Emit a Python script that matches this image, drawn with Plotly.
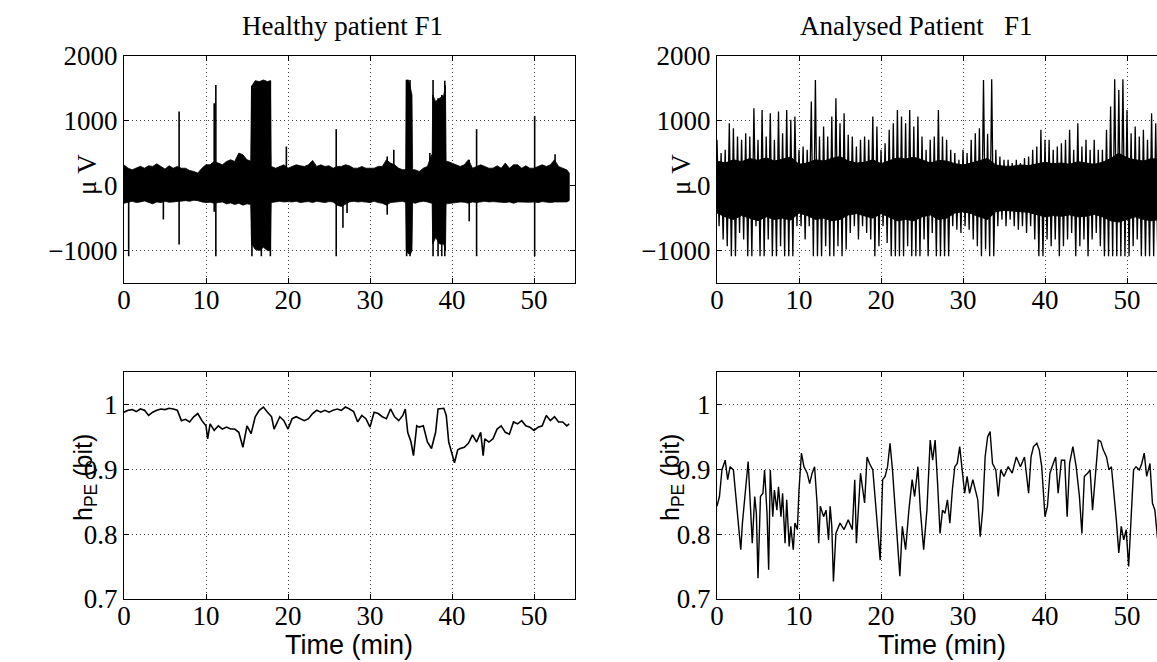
import plotly.graph_objects as go

# ---------------- data ----------------
# Healthy patient EEG: envelope of the dense background band (time in min, µV)
h_env_t = [0, 0.5, 1, 1.5, 2, 2.5, 3, 3.5, 4, 4.5, 5, 5.5, 6, 6.5, 7, 7.5, 8, 8.5, 9, 9.5,
           10, 10.5, 11, 11.5, 12, 12.5, 13, 13.5, 14, 14.5, 15, 15.45, 15.55, 16, 16.5, 17,
           17.5, 17.85, 17.95, 18.5, 19, 19.5, 20, 20.5, 21, 21.5, 22, 22.5, 23, 23.5, 24,
           24.5, 25, 25.5, 26, 26.5, 27, 27.5, 28, 28.5, 29, 29.5, 30, 30.5, 31, 31.5, 32,
           32.5, 33, 33.5, 34, 34.35, 34.42, 34.7, 34.95, 35.12, 35.2, 35.5, 36, 36.5, 37,
           37.5, 37.58, 37.65, 38, 38.5, 39, 39.2, 39.28, 39.5, 40, 40.5, 41, 41.5, 42, 42.5,
           43, 43.5, 44, 44.5, 45, 45.5, 46, 46.5, 47, 47.5, 48, 48.5, 49, 49.5, 50, 50.5,
           51, 51.5, 52, 52.5, 53, 53.5, 54, 54.3]
h_env_hi = [320, 270, 245, 270, 300, 270, 307, 297, 338, 297, 256, 307, 270, 297, 270, 270,
            236, 220, 195, 270, 323, 323, 374, 349, 323, 374, 400, 374, 503, 477, 400, 380,
            1530, 1620, 1605, 1630, 1605, 1620, 297, 270, 297, 323, 270, 297, 323, 307, 297,
            323, 390, 297, 323, 297, 307, 270, 297, 297, 323, 307, 270, 270, 297, 270, 270,
            270, 297, 297, 400, 349, 323, 270, 245, 250, 1630, 1630, 1500, 1400, 245, 245,
            220, 270, 297, 477, 400, 1400, 1300, 1350, 1400, 1550, 374, 374, 349, 323, 297,
            323, 400, 270, 297, 323, 297, 270, 270, 307, 270, 349, 270, 323, 323, 270, 307,
            270, 270, 297, 323, 297, 323, 400, 297, 270, 245, 195]
h_env_lo = [-270, -250, -240, -260, -250, -235, -260, -280, -250, -260, -240, -255, -250,
            -245, -240, -230, -240, -225, -230, -250, -260, -255, -270, -260, -250, -280,
            -265, -290, -270, -300, -280, -290, -900, -980, -1000, -950, -1000, -1000, -260,
            -250, -240, -250, -245, -250, -240, -260, -250, -245, -260, -240, -250, -260,
            -245, -250, -300, -320, -280, -250, -240, -250, -245, -250, -260, -240, -260,
            -270, -300, -260, -250, -250, -240, -260, -1000, -1050, -1050, -1000, -260,
            -270, -250, -240, -250, -270, -260, -900, -800, -900, -900, -1000, -280, -270,
            -270, -260, -250, -255, -270, -250, -260, -250, -240, -250, -245, -250, -250,
            -260, -250, -270, -250, -245, -250, -255, -250, -260, -245, -250, -260, -250,
            -245, -250, -250, -230]
# Healthy patient EEG: isolated spikes (time, top, bottom)
h_spk_t = [0.57, 4.8, 6.72, 11.0, 11.2, 15.6, 16.75, 17.85, 19.8, 25.88, 26.7, 27.2, 32.1,
           32.9, 34.47, 34.88, 37.3, 37.69, 38.3, 38.75, 39.12, 42.1, 43.0, 50.08, 52.57]
h_spk_top = [250, 250, 1143, 1272, 1554, 1540, 1600, 1620, 605, 872, 300, 300, 451, 554,
             1630, 1630, 503, 1630, 1350, 1400, 1620, 400, 872, 1077, 487]
h_spk_bot = [-1087, -520, -908, -400, -1087, -1087, -1087, -1087, -250, -1087, -650, -420,
             -446, -250, -1087, -1087, -250, -1087, -1087, -1087, -1087, -549, -1087, -1087,
             -250]

# Analysed patient EEG: solid core band (every 1 min)
a_core_t = [0, 1, 2, 3, 4, 5, 6, 7, 8, 9, 10, 11, 12, 13, 14, 15, 16, 17, 18, 19, 20, 21,
            22, 23, 24, 25, 26, 27, 28, 29, 30, 31, 32, 33, 34, 35, 36, 37, 38, 39, 40, 41,
            42, 43, 44, 45, 46, 47, 48, 49, 50, 51, 52, 53, 54]
a_core_hi = [380, 350, 400, 370, 420, 390, 430, 380, 410, 440, 330, 350, 400, 380, 420, 450,
             380, 350, 360, 400, 340, 380, 430, 410, 440, 400, 350, 390, 380, 340, 320, 350,
             380, 420, 320, 300, 300, 320, 310, 330, 360, 340, 350, 330, 370, 350, 330, 360,
             420, 500, 430, 400, 380, 420, 400]
a_core_lo = [-420, -480, -520, -460, -500, -540, -480, -520, -500, -530, -420, -460, -520,
             -500, -540, -520, -450, -430, -460, -500, -430, -480, -540, -520, -540, -480,
             -450, -520, -500, -420, -400, -430, -480, -520, -400, -380, -390, -400, -410,
             -440, -480, -460, -470, -450, -480, -470, -440, -480, -540, -560, -520, -480,
             -520, -540, -520]
# Analysed patient EEG: spike extremes, maxima at t, minima at t + 0.25 (every 0.5 min)
a_spk_t = [i * 0.5 for i in range(108)]
a_spk_hi = [708, 503, 554, 964, 887, 759, 708, 810, 759, 1195, 708, 1169, 759, 1118, 708,
            1143, 810, 1169, 1015, 1067, 554, 605, 554, 1300, 1630, 759, 913, 759, 1067, 1349,
            964, 1118, 785, 759, 605, 708, 759, 708, 1067, 913, 554, 656, 862, 964, 1169,
            1067, 964, 1169, 913, 1067, 759, 554, 708, 759, 1169, 759, 708, 554, 503, 400,
            554, 503, 708, 810, 887, 1630, 800, 1640, 554, 451, 400, 400, 349, 400, 349, 426,
            451, 554, 605, 862, 708, 708, 554, 605, 656, 708, 862, 554, 964, 605, 708, 554,
            708, 554, 554, 862, 1221, 1640, 1477, 1640, 1169, 810, 913, 759, 862, 708, 1118,
            964]
a_spk_lo = [-626, -831, -933, -1087, -1087, -728, -831, -1087, -1087, -626, -1087, -1087,
            -831, -1087, -1087, -933, -1087, -1087, -1087, -626, -626, -831, -626, -1087,
            -1087, -1087, -933, -1087, -1087, -933, -1087, -985, -728, -626, -831, -626,
            -728, -831, -1087, -933, -626, -882, -1087, -1087, -1087, -1087, -933, -1087,
            -1087, -1087, -831, -1087, -728, -1087, -1087, -1087, -1087, -626, -677, -728,
            -626, -677, -831, -933, -1087, -985, -1087, -1087, -626, -523, -626, -523, -626,
            -677, -626, -728, -626, -831, -1087, -1087, -831, -933, -831, -1087, -933, -831,
            -728, -1087, -933, -831, -1087, -831, -728, -933, -1087, -1087, -1087, -1087,
            -1087, -1087, -1087, -933, -831, -1087, -1087, -1087, -1087, -1087]

# Permutation entropy, healthy patient
hpe_h_t = [0, 0.5, 1, 1.5, 2, 2.5, 3, 3.5, 4, 4.5, 5, 5.5, 6, 6.5, 7, 7.5, 8, 8.5, 9, 9.5,
           10, 10.2, 10.5, 11, 11.5, 12, 12.5, 13, 13.5, 14, 14.5, 15, 15.5, 16, 16.5, 17,
           17.5, 18, 18.3, 18.5, 19, 19.5, 20, 20.5, 21, 21.5, 22, 22.5, 23, 23.5, 24, 24.5,
           25, 25.5, 26, 26.5, 27, 27.5, 28, 28.5, 29, 29.5, 30, 30.5, 31, 31.5, 32, 32.5,
           33, 33.5, 34, 34.3, 34.6, 35, 35.3, 35.7, 36, 36.5, 37, 37.5, 38, 38.3, 38.5, 39,
           39.3, 39.6, 40, 40.3, 40.7, 41, 41.5, 42, 42.5, 43, 43.5, 43.8, 44, 44.5, 45,
           45.5, 46, 46.5, 47, 47.5, 48, 48.5, 49, 49.5, 50, 50.5, 51, 51.5, 52, 52.5, 53,
           53.5, 54, 54.3]
hpe_h_v = [0.988, 0.991, 0.992, 0.989, 0.993, 0.991, 0.983, 0.988, 0.991, 0.993, 0.992,
           0.994, 0.993, 0.991, 0.975, 0.977, 0.973, 0.981, 0.986, 0.975, 0.967, 0.947,
           0.970, 0.960, 0.967, 0.962, 0.965, 0.962, 0.962, 0.957, 0.934, 0.967, 0.955,
           0.981, 0.991, 0.996, 0.988, 0.981, 0.962, 0.967, 0.981, 0.975, 0.962, 0.978,
           0.981, 0.978, 0.975, 0.978, 0.986, 0.991, 0.988, 0.991, 0.988, 0.991, 0.993,
           0.991, 0.996, 0.993, 0.989, 0.973, 0.983, 0.978, 0.965, 0.988, 0.986, 0.981,
           0.978, 0.993, 0.981, 0.975, 0.983, 0.993, 0.957, 0.942, 0.921, 0.967, 0.965,
           0.967, 0.942, 0.932, 0.957, 0.993, 0.993, 0.994, 0.983, 0.942, 0.924, 0.910,
           0.930, 0.932, 0.934, 0.940, 0.953, 0.942, 0.957, 0.921, 0.947, 0.942, 0.947,
           0.962, 0.967, 0.957, 0.954, 0.973, 0.970, 0.975, 0.967, 0.965, 0.960, 0.965,
           0.967, 0.983, 0.975, 0.981, 0.973, 0.973, 0.967, 0.970]

# Permutation entropy, analysed patient
hpe_a_t = [0, 0.3, 0.6, 1, 1.3, 1.6, 2, 2.3, 2.6, 2.9, 3.1, 3.5, 3.8, 4.1, 4.3, 4.6, 4.8, 5,
           5.3, 5.6, 5.8, 6.1, 6.3, 6.5, 6.8, 7, 7.3, 7.5, 7.8, 8, 8.3, 8.5, 8.8, 9, 9.3,
           9.5, 9.8, 10, 10.3, 10.6, 11, 11.3, 11.6, 11.9, 12.2, 12.4, 12.6, 13, 13.3, 13.6,
           13.8, 14, 14.2, 14.5, 15, 15.5, 16, 16.5, 16.8, 17, 17.5, 18, 18.3, 18.6, 19,
           19.3, 19.6, 19.9, 20.2, 20.5, 20.8, 21.1, 21.4, 21.7, 22, 22.3, 22.6, 23, 23.4,
           23.8, 24.1, 24.5, 24.8, 25.2, 25.6, 26, 26.3, 26.6, 26.9, 27.2, 27.5, 27.8, 28.1,
           28.4, 28.7, 29, 29.3, 29.6, 29.9, 30.2, 30.5, 30.8, 31.2, 31.5, 31.8, 32.1, 32.4,
           32.7, 33, 33.3, 33.6, 34, 34.3, 34.6, 35, 35.5, 36, 36.5, 37, 37.5, 38, 38.3,
           38.6, 39, 39.3, 39.6, 40, 40.3, 40.6, 41, 41.3, 41.6, 42, 42.4, 42.7, 43, 43.4,
           43.8, 44.2, 44.5, 44.8, 45.2, 45.5, 45.8, 46.2, 46.5, 46.8, 47.1, 47.5, 47.8,
           48.1, 48.4, 48.7, 49, 49.3, 49.6, 49.9, 50.2, 50.5, 50.8, 51.1, 51.5, 51.8, 52.1,
           52.4, 52.8, 53.1, 53.4, 53.7, 54]
hpe_a_v = [0.843, 0.858, 0.899, 0.914, 0.884, 0.904, 0.899, 0.858, 0.822, 0.776, 0.817,
           0.873, 0.912, 0.837, 0.786, 0.858, 0.832, 0.732, 0.858, 0.863, 0.899, 0.832,
           0.745, 0.899, 0.827, 0.868, 0.837, 0.873, 0.827, 0.863, 0.786, 0.853, 0.781,
           0.812, 0.776, 0.817, 0.807, 0.868, 0.925, 0.904, 0.894, 0.878, 0.894, 0.904,
           0.848, 0.786, 0.843, 0.827, 0.837, 0.791, 0.843, 0.812, 0.727, 0.801, 0.817,
           0.807, 0.822, 0.807, 0.884, 0.786, 0.894, 0.848, 0.919, 0.909, 0.899, 0.853,
           0.807, 0.760, 0.884, 0.889, 0.904, 0.940, 0.899, 0.848, 0.796, 0.735, 0.812,
           0.776, 0.837, 0.884, 0.858, 0.904, 0.837, 0.776, 0.837, 0.945, 0.914, 0.945,
           0.878, 0.801, 0.837, 0.832, 0.853, 0.817, 0.868, 0.904, 0.909, 0.935, 0.899,
           0.863, 0.889, 0.863, 0.884, 0.868, 0.853, 0.796, 0.837, 0.919, 0.950, 0.958,
           0.909, 0.899, 0.858, 0.899, 0.889, 0.904, 0.894, 0.919, 0.904, 0.919, 0.863,
           0.919, 0.935, 0.940, 0.930, 0.904, 0.827, 0.843, 0.894, 0.909, 0.919, 0.863,
           0.914, 0.914, 0.827, 0.909, 0.935, 0.904, 0.858, 0.801, 0.889, 0.894, 0.899,
           0.837, 0.899, 0.945, 0.943, 0.930, 0.919, 0.899, 0.904, 0.868, 0.822, 0.771,
           0.812, 0.791, 0.807, 0.750, 0.837, 0.899, 0.904, 0.899, 0.909, 0.925, 0.889,
           0.909, 0.848, 0.837, 0.796, 0.770]

x_ticks = [0, 10, 20, 30, 40, 50]
eeg_ticks = [-1000, 0, 1000, 2000]
eeg_tick_text = ["\u22121000", "0", "1000", "2000"]
hpe_ticks = [0.7, 0.8, 0.9, 1.0]
hpe_tick_text = ["0.7", "0.8", "0.9", "1"]

titles = ["Healthy patient F1", "Analysed Patient\u00a0\u00a0\u00a0F1"]
eeg_label = "\u03bc V"
hpe_label = "h<sub>PE</sub> (bit)"
time_label = "Time (min)"

# ---------------- figure ----------------
W, H = 1157, 662
SERIF = "Liberation Serif, Times New Roman, serif"
SANS = "Liberation Sans, Arial, sans-serif"
fig = go.Figure()

# healthy EEG band
fig.add_trace(go.Scatter(x=h_env_t + h_env_t[::-1], y=h_env_hi + h_env_lo[::-1],
                         fill="toself", fillcolor="black", mode="lines",
                         line=dict(color="black", width=0.8), xaxis="x", yaxis="y",
                         hoverinfo="skip"))
sx, sy = [], []
for t, a, b in zip(h_spk_t, h_spk_top, h_spk_bot):
    sx += [t, t, None]
    sy += [b, a, None]
fig.add_trace(go.Scatter(x=sx, y=sy, mode="lines", line=dict(color="black", width=1.6),
                         xaxis="x", yaxis="y", hoverinfo="skip"))

# analysed EEG
zx, zy = [], []
for t, a, b in zip(a_spk_t, a_spk_hi, a_spk_lo):
    zx += [t, t + 0.25]
    zy += [a, b]
fig.add_trace(go.Scatter(x=zx, y=zy, mode="lines", line=dict(color="black", width=1.3),
                         xaxis="x2", yaxis="y2", hoverinfo="skip"))
fig.add_trace(go.Scatter(x=a_core_t + a_core_t[::-1], y=a_core_hi + a_core_lo[::-1],
                         fill="toself", fillcolor="black", mode="lines",
                         line=dict(color="black", width=1), xaxis="x2", yaxis="y2",
                         hoverinfo="skip"))

# entropy curves
fig.add_trace(go.Scatter(x=hpe_h_t, y=hpe_h_v, mode="lines",
                         line=dict(color="black", width=1.6), xaxis="x3", yaxis="y3",
                         hoverinfo="skip"))
fig.add_trace(go.Scatter(x=hpe_a_t, y=hpe_a_v, mode="lines",
                         line=dict(color="black", width=1.4), xaxis="x4", yaxis="y4",
                         hoverinfo="skip"))


def px(v):
    return v / W


def py(v):
    return 1 - v / H


L0, L1 = 124, 575
R0 = 717
SCALE = (L1 - L0) / 55.0
T0, T1 = 56, 283
B0, B1 = 372, 599

common = dict(showline=True, linecolor="black", linewidth=1, ticks="inside", ticklen=5,
              tickcolor="black", showgrid=True, gridcolor="#444444", gridwidth=1,
              griddash="1px,3px", zeroline=False, automargin=False,
              tickfont=dict(family=SERIF, size=27, color="black"))

def xax(d0, d1, rng, anchor, mirror):
    return dict(common, domain=[px(d0), min(1.0, px(d1))], range=rng, anchor=anchor,
                tickvals=x_ticks, mirror=mirror, ticklabelstandoff=-7)

def yax(d0, d1, rng, anchor, vals, text, mirror):
    return dict(common, domain=[py(d1), py(d0)], range=rng, anchor=anchor,
                tickvals=vals, ticktext=text, mirror=mirror)

right_max = (W - R0) / SCALE

fig.update_layout(
    width=W, height=H, margin=dict(l=0, r=0, t=0, b=0, autoexpand=False),
    paper_bgcolor="white", plot_bgcolor="white", showlegend=False,
    xaxis=xax(L0, L1, [0, 55], "y", "ticks"),
    yaxis=yax(T0, T1, [-1500, 2000], "x", eeg_ticks, eeg_tick_text, "ticks"),
    xaxis2=xax(R0, W, [0, right_max], "y2", "ticks"),
    yaxis2=yax(T0, T1, [-1500, 2000], "x2", eeg_ticks, eeg_tick_text, False),
    xaxis3=xax(L0, L1, [0, 55], "y3", "ticks"),
    yaxis3=yax(B0, B1, [0.7, 1.05], "x3", hpe_ticks, hpe_tick_text, "ticks"),
    xaxis4=xax(R0, W, [0, right_max], "y4", "ticks"),
    yaxis4=yax(B0, B1, [0.7, 1.05], "x4", hpe_ticks, hpe_tick_text, False),
)

ann = []
for text, cx in zip(titles, [342, 916]):
    ann.append(dict(text=text, x=px(cx), y=py(26), xref="paper", yref="paper",
                    showarrow=False, font=dict(family=SERIF, size=27, color="black"),
                    xanchor="center", yanchor="middle"))
for cx in [87, 681]:
    ann.append(dict(text=eeg_label, x=px(cx), y=py(175), xref="paper", yref="paper",
                    showarrow=False, textangle=-90,
                    font=dict(family=SERIF, size=27, color="black"),
                    xanchor="center", yanchor="middle"))
for cx in [85, 672]:
    ann.append(dict(text=hpe_label, x=px(cx), y=py(478), xref="paper", yref="paper",
                    showarrow=False, textangle=-90,
                    font=dict(family=SANS, size=25, color="black"),
                    xanchor="center", yanchor="middle"))
for cx in [349, 942]:
    ann.append(dict(text=time_label, x=px(cx), y=py(645), xref="paper", yref="paper",
                    showarrow=False, font=dict(family=SANS, size=27, color="black"),
                    xanchor="center", yanchor="middle"))
fig.update_layout(annotations=ann)

# remove the browser's default page margin so the figure sits at the window origin
page_css = ("document.body.style.margin='0';"
            "document.body.style.overflow='hidden';"
            "document.documentElement.style.overflow='hidden';")
fig.write_html("out.html", config={"displayModeBar": False}, post_script=page_css)
